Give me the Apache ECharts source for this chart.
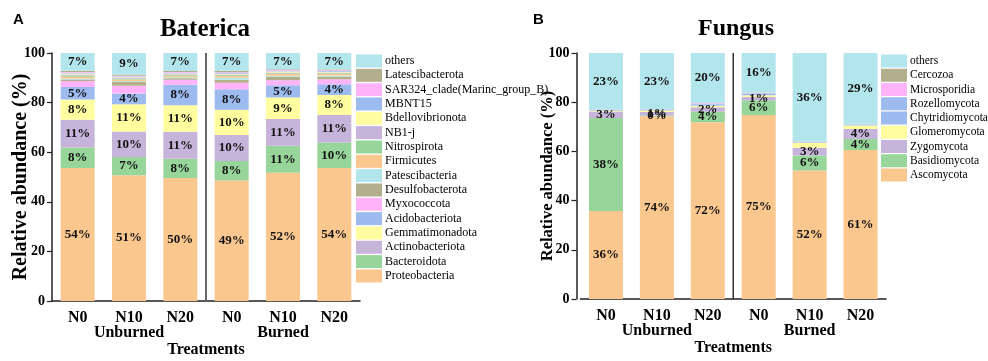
<!DOCTYPE html>
<html>
<head>
<meta charset="utf-8">
<script src="https://cdn.jsdelivr.net/npm/echarts@6/dist/echarts.min.js"></script>
<style>
  html, body { margin: 0; padding: 0; background: #ffffff; }
  #chart { width: 988px; height: 361px; }
</style>
</head>
<body>
<div id="chart"></div>
<script>
// ---- data -------------------------------------------------------------
const treatments = ['N0', 'N10', 'N20', 'N0', 'N10', 'N20'];
const groups = ['Unburned', 'Burned'];
const yTicks = [0, 20, 40, 60, 80, 100];

// Bacterial phyla, bottom of the stack first
const bacteriaNames = [
  'Proteobacteria', 'Bacteroidota', 'Actinobacteriota', 'Gemmatimonadota',
  'Acidobacteriota', 'Myxococcota', 'Desulfobacterota', 'Patescibacteria',
  'Firmicutes', 'Nitrospirota', 'NB1-j', 'Bdellovibrionota', 'MBNT15',
  'SAR324_clade(Marinc_group_B)', 'Latescibacterota', 'others'
];
const proteobacteria   = [53.6, 50.7, 49.6, 48.6, 51.7, 53.6];
const bacteroidota     = [8.3, 7.4, 7.8, 7.9, 10.9, 10.3];
const actinobacteriota = [11.2, 10.2, 10.8, 10.4, 10.8, 11.1];
const gemmatimonadota  = [8.1, 11.0, 10.7, 10.2, 8.7, 8.1];
const acidobacteriota  = [5.1, 4.4, 8.3, 8.3, 4.9, 4.3];
const myxococcota      = [2.4, 3.1, 2.0, 2.6, 2.0, 2.0];
const desulfobacterota = [0.6, 1.6, 0.6, 1.2, 1.4, 1.1];
const patescibacteria  = [0.4, 0.3, 0.4, 0.8, 0.4, 0.4];
const firmicutes       = [0.7, 0.6, 0.6, 0.7, 0.7, 0.6];
const nitrospirota     = [0.5, 0.3, 0.3, 0.3, 0.3, 0.3];
const nb1j             = [0.4, 0.3, 0.3, 0.3, 0.3, 0.3];
const bdellovibrionota = [0.4, 0.3, 0.3, 0.3, 0.4, 0.3];
const mbnt15           = [0.3, 0.3, 0.3, 0.3, 0.3, 0.3];
const sar324           = [0.3, 0.3, 0.3, 0.3, 0.3, 0.3];
const latescibacterota = [0.5, 0.4, 0.4, 0.6, 0.3, 0.3];
const bacteriaOthers   = [7.2, 8.8, 7.3, 7.2, 6.6, 6.7];
const bacteriaValues = [
  proteobacteria, bacteroidota, actinobacteriota, gemmatimonadota,
  acidobacteriota, myxococcota, desulfobacterota, patescibacteria,
  firmicutes, nitrospirota, nb1j, bdellovibrionota, mbnt15, sar324,
  latescibacterota, bacteriaOthers
];
const bacteriaLabelled = ['Proteobacteria', 'Bacteroidota', 'Actinobacteriota',
  'Gemmatimonadota', 'Acidobacteriota', 'others'];

// Fungal phyla, bottom of the stack first
const fungusNames = [
  'Ascomycota', 'Basidiomycota', 'Zygomycota', 'Glomeromycota',
  'Chytridiomycota', 'Rozellomycota', 'Microsporidia', 'Cercozoa', 'others'
];
const ascomycota      = [35.8, 74.3, 71.8, 74.8, 52.2, 60.6];
const basidiomycota   = [37.8, 0.3, 4.3, 6.0, 6.1, 4.4];
const zygomycota      = [2.6, 1.4, 1.8, 1.3, 3.2, 4.1];
const glomeromycota   = [0.3, 0.6, 0.7, 0.7, 2.0, 1.4];
const chytridiomycota = [0.2, 0.2, 0.5, 0.5, 0.2, 0.2];
const rozellomycota   = [0.1, 0.1, 0.4, 0.3, 0.1, 0.1];
const microsporidia   = [0.1, 0.1, 0.2, 0.2, 0.1, 0.1];
const cercozoa        = [0.1, 0.1, 0.1, 0.1, 0.1, 0.1];
const fungusOthers    = [23.0, 22.9, 20.2, 16.1, 36.0, 29.0];
const fungusValues = [
  ascomycota, basidiomycota, zygomycota, glomeromycota, chytridiomycota,
  rozellomycota, microsporidia, cercozoa, fungusOthers
];
const fungusLabelled = ['Ascomycota', 'Basidiomycota', 'Zygomycota', 'others'];

// ---- styling ----------------------------------------------------------
const SERIF = '"Liberation Serif", "Times New Roman", serif';
const SANS = '"Liberation Sans", Arial, sans-serif';
const bacteriaColors = [
  '#FAC78F', '#98D59A', '#C6B4DA', '#FFFD9F', '#9DBBEE', '#FFB4FA', '#B3AE8C', '#B3E5EC',
  '#FAC78F', '#98D59A', '#C6B4DA', '#FFFD9F', '#9DBBEE', '#FFB4FA', '#B3AE8C', '#B3E5EC'
];
const fungusColors = [
  '#FAC78F', '#98D59A', '#C6B4DA', '#FFFD9F', '#9DBBEE', '#9DBBEE', '#FFB4FA', '#B3AE8C', '#B3E5EC'
];

const panels = [
  { grid: { left: 52, top: 53, width: 308, height: 248, outerBoundsMode: 'none' },
    yOffset: 0, nameSize: 20, nameGap: 21 },
  { grid: { left: 580.5, top: 53, width: 305.5, height: 246, outerBoundsMode: 'none' },
    yOffset: 4, nameSize: 16.5, nameGap: 20 }
];

function mainXAxis(gridIndex) {
  return {
    type: 'category', gridIndex, data: treatments,
    axisLine: { lineStyle: { color: '#222', width: 1.5 } },
    axisTick: { alignWithLabel: true, length: 4, lineStyle: { color: '#222', width: 1.2 } },
    axisLabel: { margin: 9, color: '#000', fontFamily: SERIF, fontWeight: 'bold', fontSize: 16 }
  };
}
function groupXAxis(gridIndex) {
  return {
    type: 'category', gridIndex, data: groups, position: 'bottom', offset: 16,
    axisLine: { show: false }, axisTick: { show: false },
    axisLabel: { margin: 8, color: '#000', fontFamily: SERIF, fontWeight: 'bold', fontSize: 16 },
    name: 'Treatments', nameLocation: 'middle', nameGap: 25, nameMoveOverlap: false,
    nameTextStyle: { color: '#000', fontFamily: SERIF, fontWeight: 'bold', fontSize: 16 }
  };
}
function yAxis(gridIndex) {
  const p = panels[gridIndex];
  return {
    type: 'value', gridIndex, min: yTicks[0], max: yTicks[yTicks.length - 1],
    interval: yTicks[1] - yTicks[0], offset: p.yOffset,
    axisLine: { show: true, lineStyle: { color: '#222', width: 1.5 } },
    axisTick: { show: true, length: 5, lineStyle: { color: '#222', width: 1.2 } },
    splitLine: { show: false },
    axisLabel: { margin: 7, color: '#000', fontFamily: SERIF, fontWeight: 'bold', fontSize: 14 },
    name: 'Relative abundance (%)', nameLocation: 'middle', nameGap: p.nameGap,
    nameMoveOverlap: false,
    nameTextStyle: { color: '#000', fontFamily: SERIF, fontWeight: 'bold', fontSize: p.nameSize }
  };
}

function stackSeries(names, values, colors, labelled, axisIdx, stackId, shiftLabels) {
  return names.map((name, i) => ({
    name, type: 'bar', stack: stackId,
    xAxisIndex: axisIdx * 2, yAxisIndex: axisIdx,
    barWidth: 34,
    itemStyle: { color: colors[i] },
    data: values[i],
    label: {
      show: labelled.indexOf(name) >= 0, position: 'inside',
      formatter: p => Math.round(p.value) + '%',
      color: '#111', fontFamily: SERIF, fontWeight: 'bold', fontSize: 13
    },
    labelLayout: shiftLabels ? { moveOverlap: 'shiftY' } : undefined,
    emphasis: { disabled: true }
  }));
}

function legend(names, left, gap, size) {
  return {
    orient: 'vertical', left, top: 49.5, padding: 5,
    itemWidth: 26, itemHeight: 13, itemGap: gap,
    icon: 'rect', selectedMode: false, itemStyle: { borderWidth: 0 },
    data: names.slice().reverse(),
    textStyle: { color: '#000', fontFamily: SERIF, fontSize: size, padding: [0, 0, 0, -2] }
  };
}

const chart = echarts.init(document.getElementById('chart'), null, { renderer: 'canvas' });
chart.setOption({
  animation: false,
  backgroundColor: '#ffffff',
  title: [
    { text: 'A', left: 8, top: 7, textStyle: { fontFamily: SANS, fontWeight: 'bold', fontSize: 15, color: '#000' } },
    { text: 'B', left: 528, top: 7, textStyle: { fontFamily: SANS, fontWeight: 'bold', fontSize: 15, color: '#000' } },
    { text: 'Baterica', left: 200, top: 12, textAlign: 'center',
      textStyle: { fontFamily: SERIF, fontWeight: 'bold', fontSize: 25, color: '#000' } },
    { text: 'Fungus', left: 731, top: 12, textAlign: 'center',
      textStyle: { fontFamily: SERIF, fontWeight: 'bold', fontSize: 24, color: '#000' } }
  ],
  grid: panels.map(p => p.grid),
  xAxis: [mainXAxis(0), groupXAxis(0), mainXAxis(1), groupXAxis(1)],
  yAxis: [yAxis(0), yAxis(1)],
  legend: [
    legend(bacteriaNames, 351, 1.33, 12),
    legend(fungusNames, 876, 1.25, 11.5)
  ],
  series: [
    ...stackSeries(bacteriaNames, bacteriaValues, bacteriaColors, bacteriaLabelled, 0, 'bac', false),
    ...stackSeries(fungusNames, fungusValues, fungusColors, fungusLabelled, 1, 'fun', true)
  ]
});

// Vertical divider between the Unburned and Burned groups of each panel
const dividers = [
  { x: 0, y: 0, color: '#666', width: 2 },
  { x: 2, y: 1, color: '#333', width: 1.5 }
].map(d => {
  const a = chart.convertToPixel({ xAxisIndex: d.x }, 2);
  const b = chart.convertToPixel({ xAxisIndex: d.x }, 3);
  const top = chart.convertToPixel({ yAxisIndex: d.y }, yTicks[yTicks.length - 1]);
  const bottom = chart.convertToPixel({ yAxisIndex: d.y }, yTicks[0]);
  const mx = (a + b) / 2;
  return {
    type: 'line', silent: true, z: 10,
    shape: { x1: mx, y1: top, x2: mx, y2: bottom },
    style: { stroke: d.color, lineWidth: d.width }
  };
});
chart.setOption({ graphic: dividers });
</script>
</body>
</html>
